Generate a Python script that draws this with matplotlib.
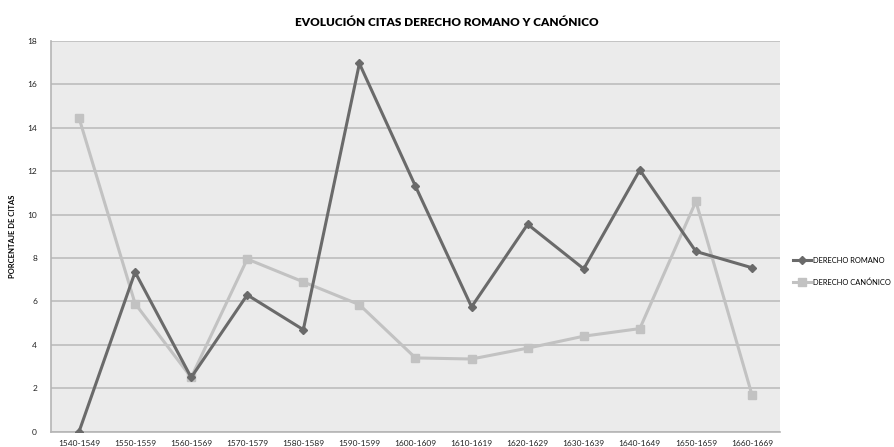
import matplotlib.pyplot as plt

decades = ['1540-1549', '1550-1559', '1560-1569', '1570-1579', '1580-1589',
           '1590-1599', '1600-1609', '1610-1619', '1620-1629', '1630-1639',
           '1640-1649', '1650-1659', '1660-1669']
romano = [0, 7.35, 2.5, 6.3, 4.7, 16.95, 11.3, 5.75, 9.55, 7.5, 12.05, 8.3,
          7.55]
canonico = [14.45, 5.9, 2.5, 7.95, 6.9, 5.85, 3.4, 3.35, 3.85, 4.4, 4.75,
            10.6, 1.7]

plt.rcParams['font.family'] = ['Lato', 'DejaVu Sans']

fig = plt.figure(figsize=(8.94, 4.47), dpi=100)
ax = fig.add_axes([0.057, 0.034, 0.8155, 0.875])
ax.set_facecolor('#ebebeb')

x = range(len(decades))
ax.plot(x, romano, color='#6a6a6a', lw=2.2, marker='D', ms=4.5,
        label='DERECHO ROMANO', zorder=3)
ax.plot(x, canonico, color='#c2c2c2', lw=2.2, marker='s', ms=5.5,
        label='DERECHO CANÓNICO', zorder=2)

ax.set_xlim(-0.5, len(decades) - 0.5)
ax.set_ylim(0, 18)
ax.set_yticks(range(0, 19, 2))
ax.set_xticks(list(x))
ax.set_xticklabels(decades)
ax.tick_params(axis='both', labelsize=6, length=0, colors='#222222')
ax.tick_params(axis='x', pad=6)
ax.tick_params(axis='y', pad=10)
ax.grid(axis='y', color='#bdbdbd', lw=1.2)
ax.set_axisbelow(True)
for side in ['top', 'right']:
    ax.spines[side].set_visible(False)
for side in ['left', 'bottom']:
    ax.spines[side].set_color('#b5b5b5')
    ax.spines[side].set_linewidth(1.2)

ax.set_ylabel('PORCENTAJE DE CITAS', fontsize=5.5, fontweight='bold',
              labelpad=14)
ax.yaxis.set_label_coords(-0.048, 0.5)
fig.suptitle('EVOLUCIÓN CITAS DERECHO ROMANO Y CANÓNICO', fontsize=8.5,
             fontweight='heavy', y=0.962)

ax.legend(loc='center left', bbox_to_anchor=(1.018, 0.41), frameon=False,
          fontsize=5.4, handlelength=2.4, handletextpad=0.2,
          labelspacing=1.9, borderaxespad=0, borderpad=0)

fig.savefig('out.png', dpi=100)
